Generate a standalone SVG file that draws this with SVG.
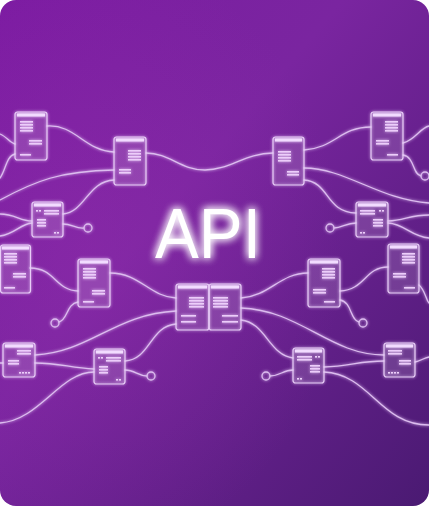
<svg xmlns="http://www.w3.org/2000/svg" width="429" height="506" viewBox="0 0 429 506">
<defs>
<linearGradient id="bg" x1="0" y1="0" x2="1" y2="1">
<stop offset="0" stop-color="#7c1ba2"/>
<stop offset="0.4" stop-color="#7a25a0"/>
<stop offset="1" stop-color="#4a1a72"/>
</linearGradient>
<radialGradient id="spot" cx="0.2" cy="0.5" r="0.6">
<stop offset="0" stop-color="#9a30b0" stop-opacity="0.35"/>
<stop offset="1" stop-color="#9a30b0" stop-opacity="0"/>
</radialGradient>
<filter id="glow" x="-20%" y="-20%" width="140%" height="140%">
<feGaussianBlur stdDeviation="1.4" result="b"/>
<feMerge><feMergeNode in="b"/><feMergeNode in="SourceGraphic"/></feMerge>
</filter>
<filter id="tglow" x="-30%" y="-30%" width="160%" height="160%">
<feGaussianBlur stdDeviation="4" result="b"/>
<feMerge><feMergeNode in="b"/><feMergeNode in="b"/><feMergeNode in="SourceGraphic"/></feMerge>
</filter>
<clipPath id="clip"><rect x="0" y="0" width="429" height="506" rx="16"/></clipPath>
</defs>
<style>
.ln{fill:none;stroke:#dcbcef;stroke-width:1.3;stroke-linecap:round}
.card{fill:#ffffff;fill-opacity:0.07;stroke:#e8cdf7;stroke-width:1.2}
.hd{fill:#f2dcff}
.bar{fill:#eccdfa}
.end{fill:none;stroke:#dcbcef;stroke-width:1.3}
</style>
<rect width="429" height="506" fill="#ffffff"/>
<g clip-path="url(#clip)">
<rect width="429" height="506" fill="url(#bg)"/>
<rect width="429" height="506" fill="url(#spot)"/>

<g id="connectors" filter="url(#glow)">
<path class="ln" d="M0,134 C6,136 10,143 15,144"/>
<path class="ln" d="M15,154 C6,156 6,170 0,178"/>
<path class="ln" d="M47,126 C75,124 85,151 114,152"/>
<path class="ln" d="M0,200 C35,181 60,171 114,170"/>
<path class="ln" d="M63,214 C85,212 88,181 114,180"/>
<path class="ln" d="M0,214 C15,214 20,221 32,221"/>
<path class="ln" d="M0,236 C15,234 20,224 32,223"/>
<path class="ln" d="M63,224 C72,224 76,229 84,228"/>
<path class="ln" d="M146,153 C170,153 180,170 205,170 C230,170 245,153 273,153"/>
<path class="ln" d="M304,150 C335,148 340,127 371,127"/>
<path class="ln" d="M304,168 C345,168 380,200 429,203"/>
<path class="ln" d="M304,180 C330,182 325,212 356,213"/>
<path class="ln" d="M403,143 C415,140 420,128 429,126"/>
<path class="ln" d="M403,155 C415,157 412,174 421,176"/>
<path class="ln" d="M334,228 C342,228 346,223 356,223"/>
<path class="ln" d="M388,221 C405,220 410,215 429,215"/>
<path class="ln" d="M388,223 C405,224 410,236 429,238"/>
<path class="ln" d="M30,268 C55,268 55,290 78,291"/>
<path class="ln" d="M78,302 C66,304 68,320 59,322"/>
<path class="ln" d="M110,273 C140,273 150,297 176,298"/>
<path class="ln" d="M35,355 C90,352 115,314 176,311"/>
<path class="ln" d="M0,363 L3,363"/>
<path class="ln" d="M35,363 C60,363 70,368 94,369"/>
<path class="ln" d="M0,423 C40,420 60,372 94,372"/>
<path class="ln" d="M125,361 C150,360 150,326 176,324"/>
<path class="ln" d="M125,370 C135,370 138,376 147,376"/>
<path class="ln" d="M241,298 C270,296 280,273 308,273"/>
<path class="ln" d="M241,308 C300,310 330,355 384,355"/>
<path class="ln" d="M241,320 C265,322 270,356 293,358"/>
<path class="ln" d="M340,291 C365,290 365,267 388,267"/>
<path class="ln" d="M340,300 C352,302 350,320 359,322"/>
<path class="ln" d="M419,285 C425,290 426,300 429,303"/>
<path class="ln" d="M270,376 C280,376 283,370 293,370"/>
<path class="ln" d="M324,367 C350,366 360,361 384,361"/>
<path class="ln" d="M324,372 C370,374 380,425 429,425"/>
<path class="ln" d="M415,362 C420,361 424,358 429,357"/>
<circle class="end" cx="88" cy="228" r="4"/>
<circle class="end" cx="55" cy="323" r="4"/>
<circle class="end" cx="151" cy="376" r="4"/>
<circle class="end" cx="330" cy="228" r="4"/>
<circle class="end" cx="425" cy="176" r="4"/>
<circle class="end" cx="363" cy="323" r="4"/>
<circle class="end" cx="266" cy="376" r="4"/>
</g>

<g filter="url(#glow)">
<g id="card-a" transform="translate(15,112)">
<rect class="card" width="32" height="48" rx="2.5"/><rect class="hd" x="2" y="1.5" width="28" height="3"/>
<rect class="bar" x="5" y="9" width="13" height="1.6"/><rect class="bar" x="5" y="12" width="13" height="1.6"/><rect class="bar" x="5" y="15" width="13" height="1.6"/><rect class="bar" x="5" y="18" width="13" height="1.6"/>
<rect class="bar" x="14" y="28" width="13" height="1.6"/><rect class="bar" x="14" y="31" width="13" height="1.6"/><rect class="bar" x="5" y="42" width="11" height="1.6"/>
</g>
<g id="card-b" transform="translate(114,137)">
<rect class="card" width="32" height="48" rx="2.5"/><rect class="hd" x="2" y="1.5" width="28" height="3"/>
<rect class="bar" x="14" y="13" width="13" height="1.6"/><rect class="bar" x="14" y="16" width="13" height="1.6"/><rect class="bar" x="14" y="19" width="13" height="1.6"/><rect class="bar" x="14" y="22" width="13" height="1.6"/>
<rect class="bar" x="5" y="32" width="12" height="1.6"/><rect class="bar" x="5" y="35" width="12" height="1.6"/>
</g>
<g id="card-c" transform="translate(32,202)">
<rect class="card" width="31" height="35" rx="2.5"/><rect class="hd" x="2" y="1.5" width="27" height="3"/>
<rect class="bar" x="4" y="8" width="2" height="1.6"/><rect class="bar" x="7" y="8" width="2" height="1.6"/><rect class="bar" x="12" y="8" width="15" height="1.6"/><rect class="bar" x="12" y="11" width="15" height="1.6"/>
<rect class="bar" x="5" y="17" width="9" height="1.6"/><rect class="bar" x="5" y="20" width="9" height="1.6"/><rect class="bar" x="5" y="23" width="9" height="1.6"/>
<rect class="bar" x="22" y="30" width="2" height="1.6"/><rect class="bar" x="25" y="30" width="2" height="1.6"/>
</g>
<g id="card-d" transform="translate(0,245)">
<rect class="card" x="0.5" width="30" height="48" rx="2.5"/><rect class="hd" x="2" y="1.5" width="27" height="3"/>
<rect class="bar" x="4" y="8" width="13" height="1.6"/><rect class="bar" x="4" y="11" width="13" height="1.6"/><rect class="bar" x="4" y="14" width="13" height="1.6"/><rect class="bar" x="4" y="17" width="13" height="1.6"/>
<rect class="bar" x="13" y="28" width="13" height="1.6"/><rect class="bar" x="13" y="31" width="13" height="1.6"/><rect class="bar" x="4" y="42" width="11" height="1.6"/>
</g>
<g id="card-e" transform="translate(78,259)">
<rect class="card" width="32" height="48" rx="2.5"/><rect class="hd" x="2" y="1.5" width="28" height="3"/>
<rect class="bar" x="5" y="9" width="13" height="1.6"/><rect class="bar" x="5" y="12" width="13" height="1.6"/><rect class="bar" x="5" y="15" width="13" height="1.6"/><rect class="bar" x="5" y="18" width="13" height="1.6"/>
<rect class="bar" x="14" y="31" width="13" height="1.6"/><rect class="bar" x="14" y="34" width="13" height="1.6"/><rect class="bar" x="5" y="42" width="11" height="1.6"/>
</g>
<g id="card-f" transform="translate(3,343)">
<rect class="card" width="32" height="34" rx="2.5"/><rect class="hd" x="2" y="1.5" width="28" height="3"/>
<rect class="bar" x="14" y="7" width="14" height="1.6"/><rect class="bar" x="14" y="10" width="14" height="1.6"/>
<rect class="bar" x="5" y="17" width="11" height="1.6"/><rect class="bar" x="5" y="20" width="11" height="1.6"/>
<rect class="bar" x="16" y="29" width="2" height="1.6"/><rect class="bar" x="19" y="29" width="2" height="1.6"/><rect class="bar" x="22" y="29" width="2" height="1.6"/><rect class="bar" x="25" y="29" width="2" height="1.6"/>
</g>
<g id="card-g" transform="translate(94,349)">
<rect class="card" width="31" height="35" rx="2.5"/><rect class="hd" x="2" y="1.5" width="27" height="3"/>
<rect class="bar" x="4" y="8" width="2" height="1.6"/><rect class="bar" x="7" y="8" width="2" height="1.6"/><rect class="bar" x="12" y="8" width="15" height="1.6"/><rect class="bar" x="12" y="11" width="15" height="1.6"/>
<rect class="bar" x="5" y="17" width="9" height="1.6"/><rect class="bar" x="5" y="20" width="9" height="1.6"/><rect class="bar" x="5" y="23" width="9" height="1.6"/>
<rect class="bar" x="22" y="30" width="2" height="1.6"/><rect class="bar" x="25" y="30" width="2" height="1.6"/>
</g>
<g id="card-center-left" transform="translate(176,284)">
<rect class="card" width="33" height="46" rx="2.5"/><rect class="hd" x="2" y="1.5" width="29" height="3"/>
<rect class="bar" x="13" y="13" width="15" height="1.6"/><rect class="bar" x="13" y="16" width="15" height="1.6"/><rect class="bar" x="13" y="19" width="15" height="1.6"/><rect class="bar" x="13" y="22" width="15" height="1.6"/>
<rect class="bar" x="5" y="31" width="15" height="1.6"/><rect class="bar" x="5" y="37" width="15" height="1.6"/>
</g>
<g id="card-center-right" transform="translate(209,284)">
<rect class="card" width="32" height="46" rx="2.5"/><rect class="hd" x="2" y="1.5" width="28" height="3"/>
<rect class="bar" x="4" y="13" width="15" height="1.6"/><rect class="bar" x="4" y="16" width="15" height="1.6"/><rect class="bar" x="4" y="19" width="15" height="1.6"/><rect class="bar" x="4" y="22" width="15" height="1.6"/>
<rect class="bar" x="13" y="31" width="16" height="1.6"/><rect class="bar" x="13" y="37" width="16" height="1.6"/>
</g>
<g id="card-h" transform="translate(273,137)">
<rect class="card" width="31" height="48" rx="2.5"/><rect class="hd" x="2" y="1.5" width="27" height="3"/>
<rect class="bar" x="5" y="14" width="13" height="1.6"/><rect class="bar" x="5" y="17" width="13" height="1.6"/><rect class="bar" x="5" y="20" width="13" height="1.6"/><rect class="bar" x="5" y="23" width="13" height="1.6"/>
<rect class="bar" x="14" y="34" width="12" height="1.6"/><rect class="bar" x="14" y="37" width="12" height="1.6"/>
</g>
<g id="card-i" transform="translate(371,112)">
<rect class="card" width="32" height="48" rx="2.5"/><rect class="hd" x="2" y="1.5" width="28" height="3"/>
<rect class="bar" x="14" y="9" width="13" height="1.6"/><rect class="bar" x="14" y="12" width="13" height="1.6"/><rect class="bar" x="14" y="15" width="13" height="1.6"/><rect class="bar" x="14" y="18" width="13" height="1.6"/>
<rect class="bar" x="5" y="28" width="13" height="1.6"/><rect class="bar" x="5" y="31" width="13" height="1.6"/><rect class="bar" x="16" y="42" width="11" height="1.6"/>
</g>
<g id="card-j" transform="translate(356,202)">
<rect class="card" width="32" height="35" rx="2.5"/><rect class="hd" x="2" y="1.5" width="28" height="3"/>
<rect class="bar" x="4" y="8" width="15" height="1.6"/><rect class="bar" x="23" y="8" width="2" height="1.6"/><rect class="bar" x="26" y="8" width="2" height="1.6"/><rect class="bar" x="4" y="11" width="15" height="1.6"/>
<rect class="bar" x="17" y="17" width="10" height="1.6"/><rect class="bar" x="17" y="20" width="10" height="1.6"/><rect class="bar" x="17" y="23" width="10" height="1.6"/>
<rect class="bar" x="4" y="30" width="2" height="1.6"/><rect class="bar" x="7" y="30" width="2" height="1.6"/>
</g>
<g id="card-k" transform="translate(308,259)">
<rect class="card" width="32" height="48" rx="2.5"/><rect class="hd" x="2" y="1.5" width="28" height="3"/>
<rect class="bar" x="14" y="9" width="13" height="1.6"/><rect class="bar" x="14" y="12" width="13" height="1.6"/><rect class="bar" x="14" y="15" width="13" height="1.6"/><rect class="bar" x="14" y="18" width="13" height="1.6"/>
<rect class="bar" x="5" y="30" width="13" height="1.6"/><rect class="bar" x="5" y="33" width="13" height="1.6"/><rect class="bar" x="16" y="42" width="11" height="1.6"/>
</g>
<g id="card-l" transform="translate(388,244)">
<rect class="card" width="31" height="49" rx="2.5"/><rect class="hd" x="2" y="1.5" width="27" height="3"/>
<rect class="bar" x="14" y="9" width="13" height="1.6"/><rect class="bar" x="14" y="12" width="13" height="1.6"/><rect class="bar" x="14" y="15" width="13" height="1.6"/><rect class="bar" x="14" y="18" width="13" height="1.6"/>
<rect class="bar" x="5" y="29" width="13" height="1.6"/><rect class="bar" x="5" y="32" width="13" height="1.6"/><rect class="bar" x="16" y="43" width="11" height="1.6"/>
</g>
<g id="card-m" transform="translate(293,348)">
<rect class="card" width="31" height="35" rx="2.5"/><rect class="hd" x="2" y="1.5" width="27" height="3"/>
<rect class="bar" x="4" y="8" width="15" height="1.6"/><rect class="bar" x="22" y="8" width="2" height="1.6"/><rect class="bar" x="25" y="8" width="2" height="1.6"/><rect class="bar" x="4" y="11" width="15" height="1.6"/>
<rect class="bar" x="17" y="17" width="10" height="1.6"/><rect class="bar" x="17" y="20" width="10" height="1.6"/><rect class="bar" x="17" y="23" width="10" height="1.6"/>
<rect class="bar" x="4" y="30" width="2" height="1.6"/><rect class="bar" x="7" y="30" width="2" height="1.6"/>
</g>
<g id="card-n" transform="translate(384,343)">
<rect class="card" width="31" height="34" rx="2.5"/><rect class="hd" x="2" y="1.5" width="27" height="3"/>
<rect class="bar" x="4" y="7" width="14" height="1.6"/><rect class="bar" x="4" y="10" width="14" height="1.6"/>
<rect class="bar" x="15" y="17" width="12" height="1.6"/><rect class="bar" x="15" y="20" width="12" height="1.6"/>
<rect class="bar" x="4" y="29" width="2" height="1.6"/><rect class="bar" x="7" y="29" width="2" height="1.6"/><rect class="bar" x="10" y="29" width="2" height="1.6"/><rect class="bar" x="13" y="29" width="2" height="1.6"/>
</g>
</g>

<g id="title" filter="url(#tglow)">
<text x="155" y="258" font-family="Liberation Sans, Arial, sans-serif" font-size="71" fill="#ffffff" textLength="106" lengthAdjust="spacingAndGlyphs">API</text>
</g>
</g>
</svg>
